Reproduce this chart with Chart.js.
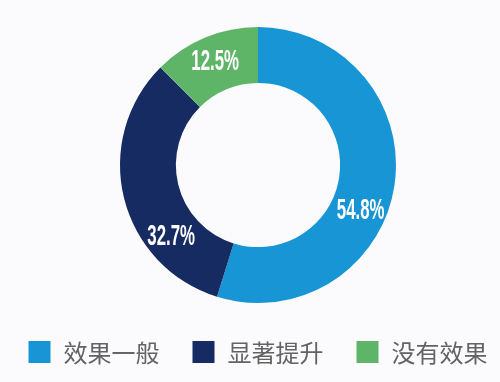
<!DOCTYPE html>
<html><head><meta charset="utf-8">
<script src="https://cdn.jsdelivr.net/npm/chart.js@4"></script>
<style>html,body{margin:0;padding:0;background:#fbfbfd;}#wrap{width:500px;height:382px;}</style>
</head><body><div id="wrap"><canvas id="c" width="500" height="382"></canvas></div>
<script>
const categories = ['效果一般', '显著提升', '没有效果'];
const values = [54.8, 32.7, 12.5];
const valueLabels = ['54.8%', '32.7%', '12.5%'];
const colors = ['#1895d5', '#172b63', '#5eb568'];
// where along each arc (0..1) the label sits
const labelAlong = [0.576, 0.285, 0.5];

const labelPlugin = {
  id: 'arcLabels',
  afterDatasetsDraw(chart) {
    const ctx = chart.ctx;
    const meta = chart.getDatasetMeta(0);
    meta.data.forEach((arc, i) => {
      const p = arc.getProps(['x','y','startAngle','endAngle','innerRadius','outerRadius'], true);
      const a = p.startAngle + (p.endAngle - p.startAngle) * labelAlong[i];
      const r = (p.innerRadius + p.outerRadius) / 2 + 2;
      const x = p.x + Math.cos(a) * r, y = p.y + Math.sin(a) * r;
      ctx.save();
      ctx.translate(x, y);
      ctx.scale(0.58, 1);
      ctx.fillStyle = '#ffffff';
      ctx.font = 'bold 29px "Liberation Sans", sans-serif';
      ctx.textAlign = 'center';
      ctx.textBaseline = 'middle';
      ctx.fillText(valueLabels[i], 0, 1);
      ctx.restore();
    });
  }
};

const legendPlugin = {
  id: 'bottomLegend',
  afterDraw(chart) {
    const ctx = chart.ctx;
    const box = 22, gapText = 13, gapItem = 33, cy = 352;
    ctx.save();
    ctx.font = '24px "Noto Sans CJK SC", sans-serif';
    const widths = chart.data.labels.map(t => ctx.measureText(t).width);
    const total = widths.reduce((s, w) => s + box + gapText + w, 0) + gapItem * (widths.length - 1);
    const cx = (chart.chartArea.left + chart.chartArea.right) / 2;
    let x = cx - total / 2;
    chart.data.labels.forEach((t, i) => {
      ctx.fillStyle = chart.data.datasets[0].backgroundColor[i];
      ctx.fillRect(x, cy - box / 2, box, box);
      x += box + gapText;
      ctx.fillStyle = '#636363';
      ctx.textAlign = 'left';
      ctx.textBaseline = 'middle';
      ctx.fillText(t, x, cy + 1);
      x += widths[i] + gapItem;
    });
    ctx.restore();
  }
};

new Chart(document.getElementById('c'), {
  type: 'doughnut',
  data: { labels: categories, datasets: [{ data: values, backgroundColor: colors, borderWidth: 0 }] },
  options: {
    responsive: false, animation: false,
    cutout: '59.5%',
    radius: 138,
    layout: { padding: { top: 27, bottom: 79, left: 16, right: 0 } },
    plugins: {
      tooltip: { enabled: false },
      legend: { display: false }
    }
  },
  plugins: [labelPlugin, legendPlugin]
});
</script></body></html>
